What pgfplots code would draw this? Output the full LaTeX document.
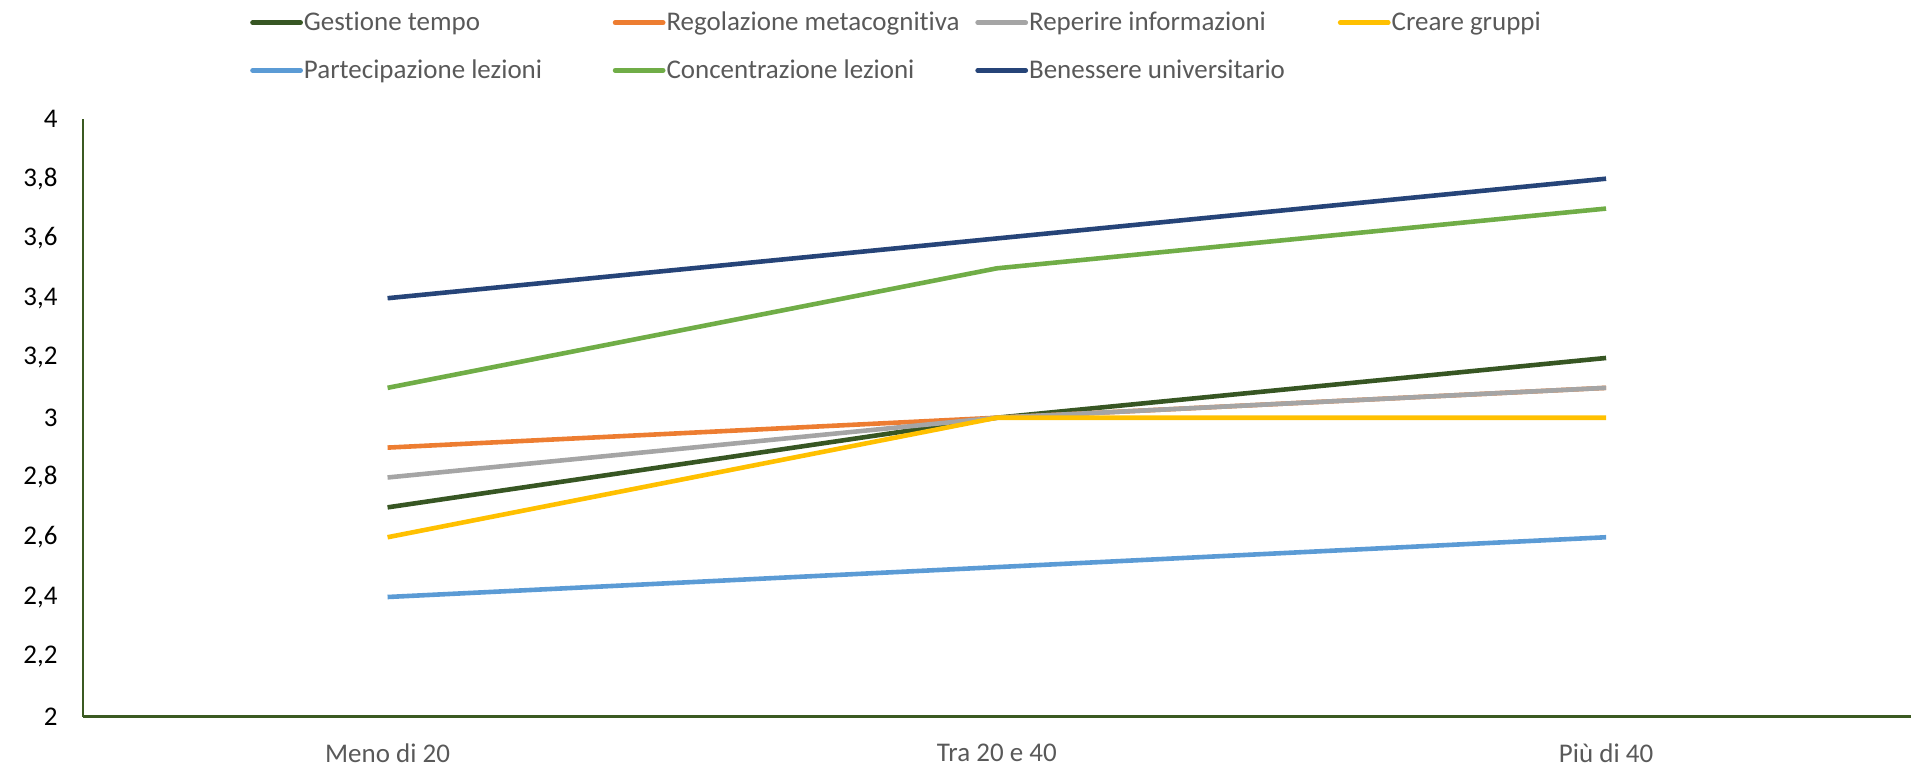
\documentclass[border=0pt]{standalone}
\usepackage{fontspec}
\setmainfont{Carlito}[Ligatures={NoCommon}]
\usepackage{pgfplots}
\pgfplotsset{compat=1.18}
\definecolor{cGest}{HTML}{375623}
\definecolor{cRego}{HTML}{ED7D31}
\definecolor{cRepe}{HTML}{A5A5A5}
\definecolor{cCrea}{HTML}{FFC000}
\definecolor{cPart}{HTML}{5B9BD5}
\definecolor{cConc}{HTML}{70AD47}
\definecolor{cBene}{HTML}{264478}
\definecolor{axisc}{HTML}{3B5A22}
\definecolor{txtgrey}{HTML}{595959}
\newcommand{\lf}{\fontsize{13.5}{16}\selectfont}
\newcommand{\lb}[1]{\makebox[154pt][l]{#1}}
\begin{document}
\begin{tikzpicture}
\begin{axis}[
  scale only axis, width=914.5pt, height=299pt,
  xmin=-0.5, xmax=2.5, ymin=2, ymax=4,
  xtick={0,1,2}, xticklabels={Meno di 20, Tra 20 e 40, Più di 40},
  ytick={2,2.2,2.4,2.6,2.8,3,3.2,3.4,3.6,3.8,4},
  axis x line*=bottom, axis y line*=left,
  axis line style={draw=axisc, line width=1.3pt, -},
  major tick length=0pt, tick style={draw=none},
  yticklabel style={font=\lf, text=black, inner sep=0pt, xshift=-12.5pt},
  xticklabel style={font=\lf, text=txtgrey, inner sep=0pt, yshift=-13.5pt},
  /pgf/number format/use comma,
  /pgf/number format/fixed,
  /pgf/number format/precision=1,
  /pgf/number format/assume math mode=true,
  legend columns=4, legend cell align=left,
  legend style={draw=none, fill=none, at={(0.0913,1.1816)}, anchor=north west,
    font=\lf, text=txtgrey, column sep=0pt, row sep=12pt, inner sep=0pt,
    nodes={inner sep=0.5pt}},
  legend image code/.code={\draw[line width=2.4pt, line cap=round] (0pt,0pt) -- (24pt,0pt);},
  every axis plot/.append style={line width=2.3pt, mark=none},
]
\addplot[cGest] coordinates {(0,2.7) (1,3.0) (2,3.2)};
\addlegendentry{\lb{Gestione tempo}}
\addplot[cRego] coordinates {(0,2.9) (1,3.0) (2,3.1)};
\addlegendentry{\lb{Regolazione metacognitiva}}
\addplot[cRepe] coordinates {(0,2.8) (1,3.0) (2,3.1)};
\addlegendentry{\lb{Reperire informazioni}}
\addplot[cCrea] coordinates {(0,2.6) (1,3.0) (2,3.0)};
\addlegendentry{\lb{Creare gruppi}}
\addplot[cPart] coordinates {(0,2.4) (1,2.5) (2,2.6)};
\addlegendentry{\lb{Partecipazione lezioni}}
\addplot[cConc] coordinates {(0,3.1) (1,3.5) (2,3.7)};
\addlegendentry{\lb{Concentrazione lezioni}}
\addplot[cBene] coordinates {(0,3.4) (1,3.6) (2,3.8)};
\addlegendentry{\lb{Benessere universitario}}
\end{axis}
\path (-41.5pt,-25.5pt) rectangle (914.5pt,358.5pt);
\end{tikzpicture}
\end{document}
